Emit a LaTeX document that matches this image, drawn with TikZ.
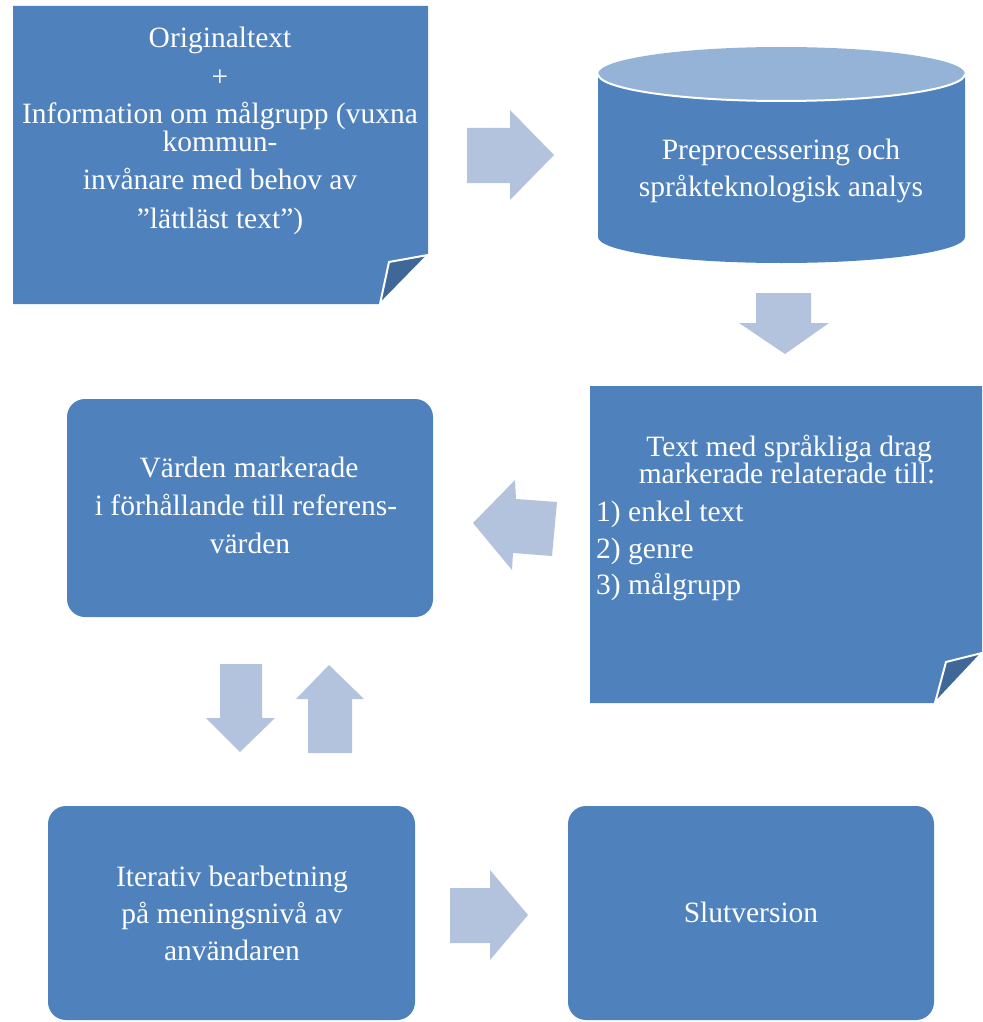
\documentclass[tikz,border=0pt]{standalone}
\usepackage{fontspec}
\setmainfont{Liberation Serif}
\definecolor{boxblue}{HTML}{4F81BD}
\definecolor{arrowblue}{HTML}{B3C3DE}
\definecolor{toplight}{HTML}{95B3D7}
\definecolor{flapdark}{HTML}{3F6898}
\begin{document}
\begin{tikzpicture}[x=1pt,y=-1pt,
  txt/.style={text=white,font=\fontsize{29.5}{33}\selectfont,inner sep=0pt,anchor=base},
  txtl/.style={txt,anchor=base west},
  boxfill/.style={fill=boxblue,draw=none},
  rbox/.style={boxfill,rectangle,rounded corners=18pt,inner sep=0pt},
  flap/.style={fill=flapdark,draw=white,line width=2pt,line join=miter},
  blockarrow/.style={fill=arrowblue,draw=none}]
\useasboundingbox (0,0) rectangle (982,1022);

% Box 1: folded note
\path[boxfill] (13,6) -- (428,6) -- (428,255) -- (380,304) -- (13,304) -- cycle;
\path[flap] (428,255) -- (389,262) -- (380,304) -- cycle;
\node[txt] (t1a) at (220,48) {Originaltext};
\node[txt] (t1b) at (220,87) {+};
\node[txt] (t1c) at (220,124) {Information om målgrupp (vuxna};
\node[txt] (t1d) at (220,151) {kommun-};
\node[txt] (t1e) at (220,189) {invånare med behov av};
\node[txt] (t1f) at (220,228) {”lättläst text”)};

% Box 2: cylinder
\path[boxfill] (598,74) -- (598,237) arc[start angle=180,end angle=0,x radius=183.5,y radius=26] -- (965,74) -- cycle;
\path[fill=toplight] (781.5,74) ellipse[x radius=183.5,y radius=27];
\draw[white,line width=2pt] (598,74) arc[start angle=180,end angle=0,x radius=183.5,y radius=27];
\node[txt] (t2a) at (781,159) {Preprocessering och};
\node[txt] (t2b) at (781,196) {språkteknologisk analys};

% Box 3: folded note
\path[boxfill] (590,386) -- (982,386) -- (982,653) -- (935,703) -- (590,703) -- cycle;
\path[flap] (982,653) -- (946,662) -- (935,703) -- cycle;
\node[txt] (t3a) at (789,456) {Text med språkliga drag};
\node[txt] (t3b) at (787,483) {markerade relaterade till:};
\node[txtl] (t3c) at (596,521) {1) enkel text};
\node[txtl] (t3d) at (596,558) {2) genre};
\node[txtl] (t3e) at (596,594) {3) målgrupp};

% Box 4
\node[rbox,minimum width=366pt,minimum height=218pt] (b4) at (250,508) {};
\node[txt] (t4a) at (249,477) {Värden markerade};
\node[txt] (t4b) at (246,515) {i förhållande till referens-};
\node[txt] (t4c) at (250,553) {värden};

% Box 5
\node[rbox,minimum width=367pt,minimum height=214pt] (b5) at (231.5,913) {};
\node[txt] (t5a) at (232,886) {Iterativ bearbetning};
\node[txt] (t5b) at (232,923) {på meningsnivå av};
\node[txt] (t5c) at (232,960) {användaren};

% Box 6
\node[rbox,minimum width=366pt,minimum height=214pt] (b6) at (751,913) {};
\node[txt] (t6a) at (751,922) {Slutversion};

% Block arrows
\path[blockarrow] (467,128) -- (510,128) -- (510,110) -- (554,155) -- (510,200) -- (510,183) -- (467,183) -- cycle;
\path[blockarrow] (756,293) -- (811,293) -- (811,323) -- (829,323) -- (785,354) -- (739,323) -- (756,323) -- cycle;
\path[blockarrow] (557,502) -- (516,499) -- (515,480) -- (473,523) -- (512,570) -- (513,553) -- (552,556) -- cycle;
\path[blockarrow] (220,664) -- (262,664) -- (262,718) -- (275,718) -- (240,752) -- (206,718) -- (220,718) -- cycle;
\path[blockarrow] (308,753) -- (352,753) -- (352,699) -- (364,699) -- (329,665) -- (296,699) -- (308,699) -- cycle;
\path[blockarrow] (450,888) -- (490,888) -- (490,870) -- (528,915) -- (490,960) -- (490,943) -- (450,943) -- cycle;
\end{tikzpicture}
\end{document}
